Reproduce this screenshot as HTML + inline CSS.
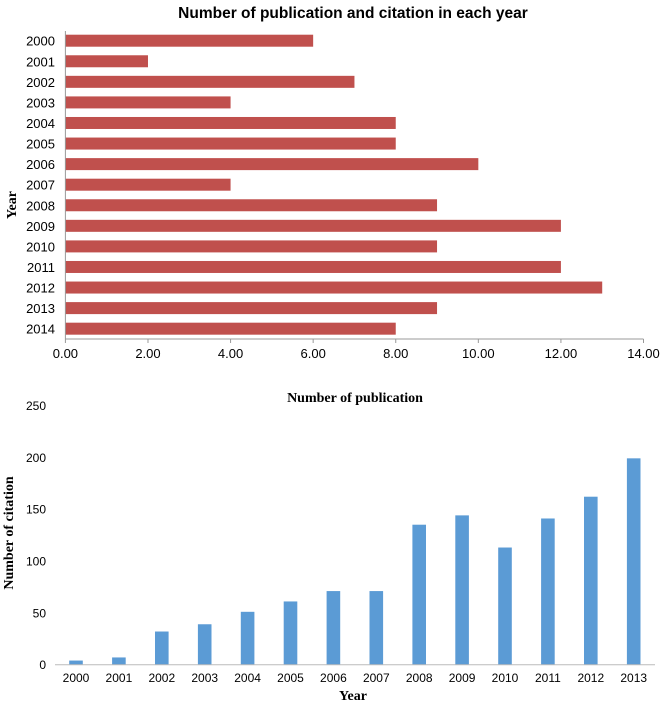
<!DOCTYPE html>
<html><head><meta charset="utf-8"><style>
body{margin:0;background:#fff;}
svg{display:block;}
</style></head><body>
<svg width="662" height="705" viewBox="0 0 662 705" xmlns="http://www.w3.org/2000/svg">
<g id="top"></g>
<g id="bot"></g>
</svg>
<script>
const topYears=["2000","2001","2002","2003","2004","2005","2006","2007","2008","2009","2010","2011","2012","2013","2014"];
const topValues=[6,2,7,4,8,8,10,4,9,12,9,12,13,9,8];
const topTicks=[0,2,4,6,8,10,12,14];
const botYears=["2000","2001","2002","2003","2004","2005","2006","2007","2008","2009","2010","2011","2012","2013"];
const botValues=[4,7,32,39,51,61,71,71,135,144,113,141,162,199];
const botTicks=[0,50,100,150,200,250];
const NS="http://www.w3.org/2000/svg";
function mk(parent,tag,attrs,text){const e=document.createElementNS(NS,tag);for(const k in attrs)e.setAttribute(k,attrs[k]);if(text!==undefined)e.textContent=text;parent.appendChild(e);return e;}
// top chart
const T=document.getElementById('top');
const tx=v=>65.4+v*(643.5-65.4)/14;
const ty=i=>40.7+i*20.57;
let e;
e=mk(T,'text',{x:353,y:18,'text-anchor':'middle','font-family':'Liberation Sans, sans-serif','font-size':'15.5','font-weight':'bold',fill:'#000'},'Number of publication and citation in each year');


e=mk(T,'text',{x:0,y:0,transform:'translate(16,205) rotate(-90)','text-anchor':'middle','font-family':'Liberation Serif, serif','font-size':'14','font-weight':'bold',fill:'#000'},'Year');


topValues.forEach((v,i)=>{
 const r=mk(T,'rect',{x:tx(0),y:ty(i)-6,width:tx(v)-tx(0),height:12,fill:'#c0504d'});
 
 
 const l=mk(T,'text',{x:55,y:ty(i)+5,'text-anchor':'end','font-family':'Liberation Sans, sans-serif','font-size':'13',fill:'#000'},topYears[i]);
 
 
});
e=mk(T,'line',{x1:tx(0),y1:31,x2:tx(0),y2:339,stroke:'#999','stroke-width':1});


e=mk(T,'line',{x1:tx(0),y1:339,x2:tx(14),y2:339,stroke:'#999','stroke-width':1});


topTicks.forEach(v=>{
 const l=mk(T,'text',{x:tx(v),y:358,'text-anchor':'middle','font-family':'Liberation Sans, sans-serif','font-size':'13',fill:'#000'},v.toFixed(2));
 
 
 const t=mk(T,'line',{x1:tx(v),y1:339,x2:tx(v),y2:343,stroke:'#999'});
 
 
});
// bottom chart
const B=document.getElementById('bot');
const by=v=>664.7-v*(664.7-457.3)/200;
const bx=i=>76+i*42.9;
e=mk(B,'text',{x:355,y:402,'text-anchor':'middle','font-family':'Liberation Serif, serif','font-size':'14','font-weight':'bold',fill:'#000'},'Number of publication');


e=mk(B,'text',{x:0,y:0,transform:'translate(13,533) rotate(-90)','text-anchor':'middle','font-family':'Liberation Serif, serif','font-size':'14','font-weight':'bold',fill:'#000'},'Number of citation');


e=mk(B,'text',{x:353,y:700,'text-anchor':'middle','font-family':'Liberation Serif, serif','font-size':'14','font-weight':'bold',fill:'#000'},'Year');


botTicks.forEach(v=>{
 const l=mk(B,'text',{x:46,y:by(v)+4.5,'text-anchor':'end','font-family':'Liberation Sans, sans-serif','font-size':'12',fill:'#000'},String(v));
 
 
});
botValues.forEach((v,i)=>{
 const r=mk(B,'rect',{x:bx(i)-6.8,y:by(v),width:13.6,height:by(0)-by(v),fill:'#5b9bd5'});
 
 
 const l=mk(B,'text',{x:bx(i),y:682,'text-anchor':'middle','font-family':'Liberation Sans, sans-serif','font-size':'12',fill:'#000'},botYears[i]);
 
 
});
e=mk(B,'line',{x1:55,y1:by(0),x2:655,y2:by(0),stroke:'#bbb','stroke-width':1});


</script>
</body></html>
